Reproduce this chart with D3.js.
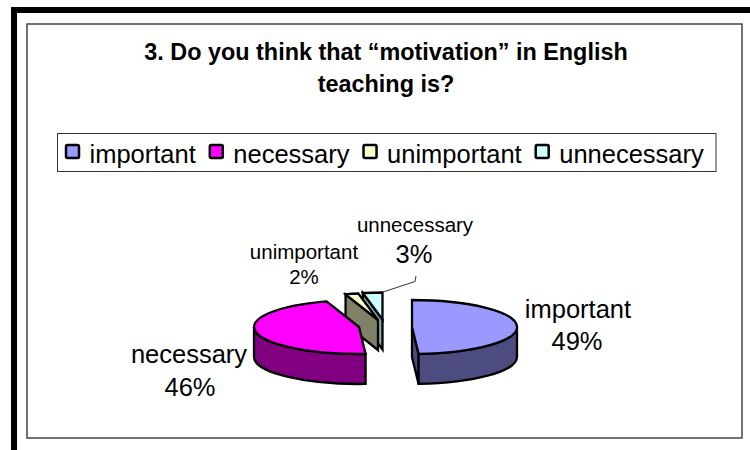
<!DOCTYPE html>
<html>
<head>
<meta charset="utf-8">
<script src="https://cdnjs.cloudflare.com/ajax/libs/d3/7.8.5/d3.min.js"></script>
<style>
html,body{margin:0;padding:0;background:#fff}
svg{display:block}
text{font-family:"Liberation Sans",Arial,sans-serif;fill:#000}
</style>
</head>
<body>
<svg id="c" width="750" height="450"></svg>
<script>
const categories = ["important","necessary","unimportant","unnecessary"];
const values = [49,46,2,3];
const topColors = ["#9999ff","#ff00ff","#ffffcc","#ccffff"];
const sideColors = ["#4c4c80","#800080","#808066","#7fb0b5"];
const titleLines = ["3. Do you think that \u201cmotivation\u201d in English","teaching is?"];

// layout
const rx = 105, ry = 27, depth = 30;
const centers = [[412,327],[359,327],[378,320],[382.5,319.5]];
const drawOrder = [3,2,1,0];
const labelLayout = [
  {x:578,y:318,nameSize:25.5,pctX:577,pctY:350,pctSize:25.5},
  {x:189,y:363,nameSize:25.5,pctX:190,pctY:396,pctSize:25.5},
  {x:304,y:259,nameSize:20.5,pctX:304,pctY:284,pctSize:20.5},
  {x:415,y:232,nameSize:20.5,pctX:414,pctY:263,pctSize:25.5}
];

const svg = d3.select("#c");
svg.append("rect").attr("width",750).attr("height",450).attr("fill","#fff");

// outer heavy frame (left and top)
svg.append("path").attr("d","M14,450V10H750").attr("fill","none").attr("stroke","#000").attr("stroke-width",6);
// chart frame
svg.append("rect").attr("x",27).attr("y",24).attr("width",715).attr("height",414)
  .attr("fill","#fff").attr("stroke","#444").attr("stroke-width",1.5);

// title
svg.append("g").selectAll("text").data(titleLines).join("text")
  .attr("x",386).attr("y",(d,i)=>60+i*32)
  .attr("text-anchor","middle").attr("font-weight","bold").attr("font-size",23.4)
  .text(d=>d);

// legend
const legendG = svg.append("g");
legendG.append("rect").attr("x",57.5).attr("y",133.5).attr("width",658.5).attr("height",38)
  .attr("fill","#fff").attr("stroke","#333").attr("stroke-width",1);
let cursor = 65;
categories.forEach((c,i)=>{
  legendG.append("rect").attr("x",cursor+1).attr("y",145).attr("width",13).attr("height",13)
    .attr("rx",1.5).attr("fill",topColors[i]).attr("stroke","#000").attr("stroke-width",2.5);
  const t = legendG.append("text").attr("x",cursor+24.5).attr("y",162.5).attr("font-size",25.5).text(c);
  cursor += 24.5 + t.node().getComputedTextLength() + 13;
});

// pie
const arcs = d3.pie().sort(null).value(d=>d).startAngle(0).endAngle(2*Math.PI)(values);
const pt = (c,a,dz=0)=>[c[0]+rx*Math.sin(a), c[1]-ry*Math.cos(a)+dz];
const arcTo = (p,a0,a1)=>`A${rx},${ry} 0 ${Math.abs(a1-a0)>Math.PI?1:0} 1 ${p[0]},${p[1]}`;
const arcBack = (p,a0,a1)=>`A${rx},${ry} 0 ${Math.abs(a1-a0)>Math.PI?1:0} 0 ${p[0]},${p[1]}`;
const pieG = svg.append("g").attr("stroke","#000").attr("stroke-width",2.3).attr("stroke-linejoin","miter");

drawOrder.forEach(i=>{
  const d = arcs[i], c = centers[i], a0 = d.startAngle, a1 = d.endAngle;
  const g = pieG.append("g");
  // cut walls facing the viewer
  const wall = a=>{
    const p = pt(c,a);
    g.append("path").attr("fill",sideColors[i])
      .attr("d",`M${c[0]},${c[1]}L${p[0]},${p[1]}L${p[0]},${p[1]+depth}L${c[0]},${c[1]+depth}Z`);
  };
  if (a0 < Math.PI) { wall(a1 < Math.PI ? a1 : Math.PI); }
  if (a0 >= Math.PI) { wall(a0); }
  // rim
  const r0 = Math.max(a0,Math.PI/2), r1 = Math.min(a1,3*Math.PI/2);
  if (r1 > r0) {
    const p0 = pt(c,r0), p1 = pt(c,r1), q1 = pt(c,r1,depth), q0 = pt(c,r0,depth);
    g.append("path").attr("fill",sideColors[i])
      .attr("d",`M${p0}${arcTo(p1,r0,r1)}L${q1}${arcBack(q0,r0,r1)}Z`);
  }
  // top
  const s = pt(c,a0), e = pt(c,a1);
  g.append("path").attr("fill",topColors[i])
    .attr("d",`M${c}L${s}${arcTo(e,a0,a1)}Z`);
});

// leader line
svg.append("path").attr("d","M383,292L415,281.5L416,276").attr("fill","none").attr("stroke","#333").attr("stroke-width",1);

// labels
const total = d3.sum(values);
const labelG = svg.append("g").attr("text-anchor","middle");
categories.forEach((c,i)=>{
  const l = labelLayout[i];
  labelG.append("text").attr("x",l.x).attr("y",l.y).attr("font-size",l.nameSize).text(c);
  labelG.append("text").attr("x",l.pctX).attr("y",l.pctY).attr("font-size",l.pctSize)
    .text(d3.format(".0%")(values[i]/total));
});
</script>
</body>
</html>
